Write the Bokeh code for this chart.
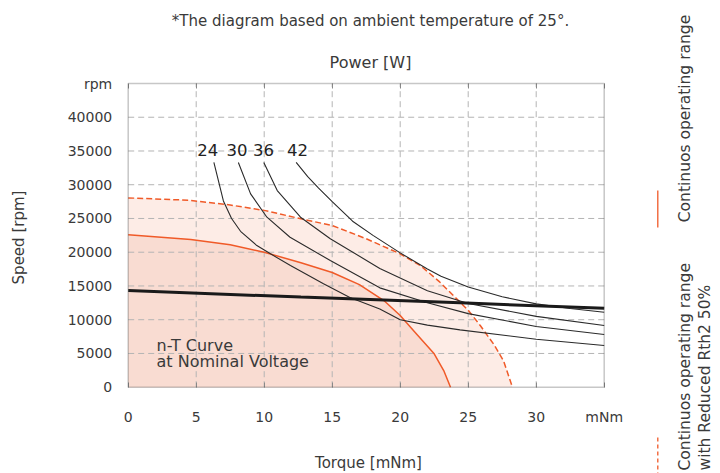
import numpy as np
from bokeh.plotting import figure
from bokeh.models import Label, LinearAxis, FixedTicker, Range1d, BoxAnnotation
from bokeh.embed import file_html
from bokeh.resources import INLINE

FONT = "DejaVu Sans"
TXT = "#3a3a3a"
ORANGE = "#f05a28"
FILL_OUTER = "#fdece6"
FILL_INNER = "#f9dcd2"

# ---------------- data ----------------
torque_ticks = [0, 5, 10, 15, 20, 25, 30, 35]
torque_tick_labels = ["0", "5", "10", "15", "20", "25", "30", "mNm"]
speed_ticks = [0, 5000, 10000, 15000, 20000, 25000, 30000, 35000, 40000, 45000]
speed_tick_labels = ["0", "5000", "10000", "15000", "20000", "25000", "30000",
                     "35000", "40000", "rpm"]

# n-T curve at nominal voltage (thick black)
nominal_torque = [0, 12.7, 24.4, 35]
nominal_speed = [14330, 13350, 12500, 11700]

# continuous operating range (solid orange)
cont_torque = [0, 4.6, 7.5, 10, 12.7, 15, 17, 18.8, 20, 21.2, 22.5, 23.2, 23.7]
cont_speed = [22580, 21900, 21100, 20000, 18430, 17000, 15200, 12840, 10620,
              7900, 4950, 2470, 0]

# continuous operating range with reduced Rth2 50% (dashed orange)
red_torque = [0, 4.5, 7.5, 10, 12.7, 15, 17.5, 20, 21.5, 22.9, 25, 25.9, 26.9,
              27.6, 28.25]
red_speed = [28050, 27700, 27000, 26200, 24950, 23960, 22000, 19760, 18000,
             15600, 11400, 9100, 6300, 3900, 0]

# power curves (thin black)
powers = ["24", "30", "36", "42"]
power_label_torque = [5.85, 8.0, 9.95, 12.45]
power_label_speed = [35200, 35200, 35200, 35200]

p24_torque = [6.3, 7.0, 7.6, 8.26, 9.46, 10.46, 11.93, 14.36, 16.3, 18.5, 20, 22,
              24.4, 30, 35]
p24_speed = [33300, 27600, 25000, 23100, 20990, 19760, 18030, 15320, 13300, 11600,
             10000, 9200, 8500, 7100, 6180]
p30_torque = [8.1, 9.0, 10.2, 11.9, 14.86, 18.5, 22, 25, 30, 35]
p30_speed = [33300, 28650, 25190, 22220, 18770, 14720, 12500, 10900, 9000, 7810]
p36_torque = [9.97, 10.96, 12.67, 14.86, 18.5, 22, 25, 30, 35]
p36_speed = [33300, 29140, 25190, 22000, 17600, 14300, 12400, 10500, 9140]
p42_torque = [12.35, 13.2, 14.0, 15.0, 16.5, 18.0, 20.0, 22.0, 23.0, 25.0,
              27.5, 30.0, 32.5, 35.0]
p42_speed = [33300, 31200, 29500, 27500, 24600, 22500, 19900, 17500, 16450,
             14850, 13400, 12350, 11650, 11100]

# ---------------- layout constants (pixels) ----------------
W, H = 720, 473
X0, XS = 127.7, 13.6          # page x of 0 mNm, px per mNm
Y0 = 386.7                    # page y of 0 rpm
YS = 303.7 / 45000.0          # px per rpm


def dx(px):
    return (px - X0) / XS


def dy(py):
    return (Y0 - py) / YS


p = figure(width=W, height=H,
           x_range=Range1d(dx(0), dx(W)), y_range=Range1d(dy(H), dy(0)),
           x_axis_type=None, y_axis_type=None,
           output_backend="svg", toolbar_location=None, min_border=0,
           background_fill_color="white", border_fill_color="white")
p.outline_line_color = None

xmin, xmax = torque_ticks[0], torque_ticks[-1]
ymin, ymax = speed_ticks[0], speed_ticks[-1]

# fills
p.varea(x=red_torque, y1=0, y2=red_speed, fill_color=FILL_OUTER, level="image")
p.varea(x=cont_torque, y1=0, y2=cont_speed, fill_color=FILL_INNER, level="image")

# grid (dashed, inside the chart box only)
gx = torque_ticks[1:-1]
gy = speed_ticks[1:-1]
p.segment(x0=gx, y0=[ymin] * len(gx), x1=gx, y1=[ymax] * len(gx),
          line_color="#b4b4b4", line_dash="6 4", line_width=1, level="underlay")
p.segment(x0=[xmin] * len(gy), y0=gy, x1=[xmax] * len(gy), y1=gy,
          line_color="#b4b4b4", line_dash="6 4", line_width=1, level="underlay")

# curves
p.line(red_torque, red_speed, line_color=ORANGE, line_width=1.5, line_dash="6 3")
p.line(cont_torque, cont_speed, line_color=ORANGE, line_width=1.5)
for tx, sp in ((p24_torque, p24_speed), (p30_torque, p30_speed),
               (p36_torque, p36_speed), (p42_torque, p42_speed)):
    p.line(tx, sp, line_color="#2a2a2a", line_width=1.1)
p.line(nominal_torque, nominal_speed, line_color="#1a1a1a", line_width=3)

# chart box
p.add_layout(BoxAnnotation(left=xmin, right=xmax, bottom=ymin, top=ymax,
                           fill_color=None, fill_alpha=0, line_color="#444444",
                           line_width=1.5))

# axes (fixed onto the chart box)
common = dict(axis_line_color=None, minor_tick_line_color=None,
              major_label_text_font=FONT, major_label_text_font_size="14px",
              major_label_text_color=TXT)
xax = LinearAxis(fixed_location=ymin, ticker=FixedTicker(ticks=torque_ticks),
                 major_label_overrides=dict(zip(torque_ticks, torque_tick_labels)),
                 major_tick_in=5, major_tick_out=0, major_tick_line_color="#888888",
                 major_label_standoff=22, **common)
p.add_layout(xax, "below")
yax = LinearAxis(fixed_location=xmin, ticker=FixedTicker(ticks=speed_ticks),
                 major_label_overrides=dict(zip(speed_ticks, speed_tick_labels)),
                 major_tick_in=0, major_tick_out=0, major_tick_line_color=None,
                 major_label_standoff=16, **common)
p.add_layout(yax, "left")
tax = LinearAxis(fixed_location=ymax, ticker=FixedTicker(ticks=torque_ticks),
                 major_label_overrides={t: "" for t in torque_ticks},
                 major_tick_in=5, major_tick_out=0, major_tick_line_color="#888888",
                 axis_line_color=None, minor_tick_line_color=None)
p.add_layout(tax, "above")


# texts
def lab(px, py, text, size="15px", align="center", baseline="alphabetic", angle=0,
        color=TXT):
    p.add_layout(Label(x=dx(px), y=dy(py), text=text, text_font=FONT,
                       text_font_size=size, text_color=color, text_align=align,
                       text_baseline=baseline, angle=angle))


lab(370, 20.5, "*The diagram based on ambient temperature of 25°.", size="15px")
lab(370, 62, "Power [W]", size="16px")
lab(368, 462, "Torque [mNm]", size="15px")
lab(18, 237, "Speed [rpm]", baseline="middle", angle=np.pi / 2)
lab(156, 345, "n-T Curve", size="16px", align="left")
lab(156, 361, "at Nominal Voltage", size="16px", align="left")
for v, vx, vy in zip(powers, power_label_torque, power_label_speed):
    p.add_layout(Label(x=vx, y=vy, text=v, text_font=FONT, text_font_size="16.5px",
                       text_color="#222222", text_align="center",
                       text_baseline="alphabetic"))

# legend (right side, rotated)
p.line([dx(657.3)] * 2, [dy(190), dy(227)], line_color=ORANGE, line_width=1.3)
p.line([dx(657.3)] * 2, [dy(437), dy(473)], line_color=ORANGE, line_width=1.3,
       line_dash="4 3")
lab(684, 118, "Continuos operating range", size="15.5px", baseline="middle",
    angle=np.pi / 2)
lab(684, 470, "Continuos operating range", size="15.5px", align="left",
    baseline="middle", angle=np.pi / 2)
lab(704, 470, "with Reduced Rth2 50%", size="15.5px", align="left",
    baseline="middle", angle=np.pi / 2)

open("out.html", "w").write(file_html(p, INLINE))
